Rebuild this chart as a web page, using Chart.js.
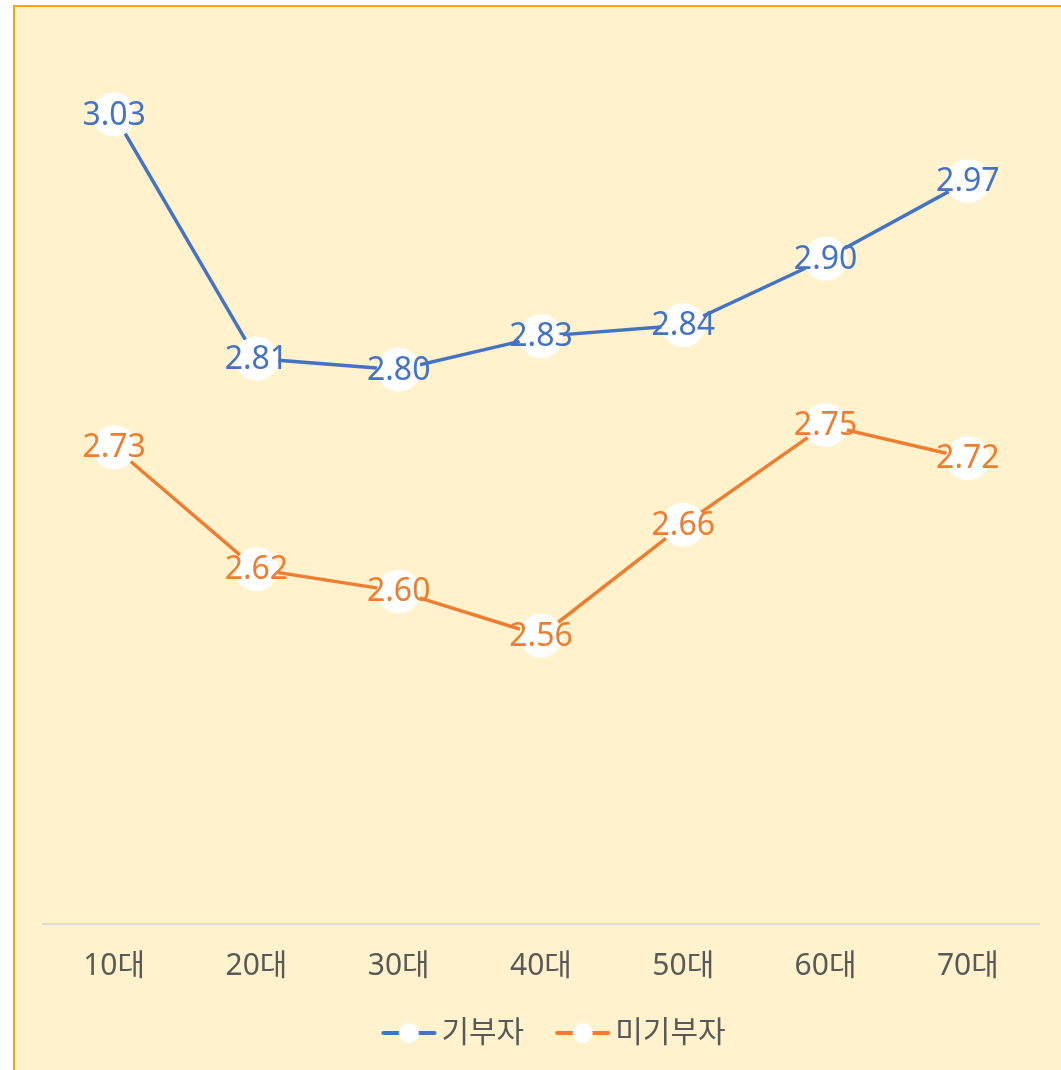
<!DOCTYPE html>
<html>
<head>
<meta charset="utf-8">
<script src="https://cdn.jsdelivr.net/npm/chart.js@4"></script>
<style>
  html, body { margin: 0; padding: 0; background: #ffffff; overflow: hidden; }
  #frame { position: absolute; left: 13px; top: 5px; width: 1100px; height: 1100px;
           background: #FFF2CC; border-left: 2px solid #FFA500; border-top: 2px solid #FFA500; box-sizing: border-box; }
  #c { position: absolute; left: 0; top: 0; }
</style>
</head>
<body>
<div id="frame"></div>
<canvas id="c" width="1061" height="1070"></canvas>
<script>
const categories = ['10대', '20대', '30대', '40대', '50대', '60대', '70대'];
const donorValues = [3.03, 2.81, 2.80, 2.83, 2.84, 2.90, 2.97];
const nonDonorValues = [2.73, 2.62, 2.60, 2.56, 2.66, 2.75, 2.72];
const seriesNames = ['기부자', '미기부자'];
const seriesColors = ['#4472C4', '#ED7D31'];

const FONT = '"Noto Sans", "Noto Sans CJK KR", sans-serif';

function legendImage(color) {
  const cv = document.createElement('canvas');
  cv.width = 90; cv.height = 24;
  const g = cv.getContext('2d');
  g.strokeStyle = color; g.lineWidth = 4; g.lineCap = 'round';
  g.beginPath(); g.moveTo(35, 12); g.lineTo(86, 12); g.stroke();
  g.fillStyle = '#ffffff';
  g.beginPath(); g.arc(60.5, 12, 10, 0, Math.PI * 2); g.fill();
  return cv;
}

const valueLabels = {
  id: 'valueLabels',
  afterDatasetsDraw(chart) {
    const ctx = chart.ctx;
    ctx.save();
    ctx.font = '32px ' + FONT;
    ctx.textAlign = 'center';
    ctx.textBaseline = 'middle';
    chart.data.datasets.forEach((ds, i) => {
      const meta = chart.getDatasetMeta(i);
      meta.data.forEach((pt, j) => {
        ctx.fillStyle = ds.borderColor;
        ctx.fillText(ds.data[j].toFixed(2), pt.x, pt.y + 1);
      });
    });
    ctx.restore();
  }
};

new Chart(document.getElementById('c'), {
  type: 'line',
  data: {
    labels: categories,
    datasets: [
      { label: seriesNames[0], data: donorValues, borderColor: seriesColors[0], borderWidth: 3.5,
        pointRadius: 22, pointBackgroundColor: '#ffffff', pointBorderWidth: 0, pointBorderColor: '#ffffff', tension: 0 },
      { label: seriesNames[1], data: nonDonorValues, borderColor: seriesColors[1], borderWidth: 3.5,
        pointRadius: 22, pointBackgroundColor: '#ffffff', pointBorderWidth: 0, pointBorderColor: '#ffffff', tension: 0 }
    ]
  },
  options: {
    responsive: false,
    animation: false,
    layout: { padding: { left: 43, right: 18, top: 37, bottom: 12 } },
    plugins: {
      tooltip: { enabled: false },
      legend: {
        position: 'bottom',
        labels: {
          usePointStyle: true,
          pointStyleWidth: 66,
          padding: 10,
          color: '#595959',
          font: { size: 30, family: FONT },
          generateLabels(chart) {
            return chart.data.datasets.map((ds, i) => ({
              text: ds.label,
              fillStyle: '#ffffff',
              strokeStyle: ds.borderColor,
              lineWidth: 0,
              pointStyle: legendImage(ds.borderColor),
              datasetIndex: i,
              hidden: false,
              fontColor: '#595959'
            }));
          }
        }
      }
    },
    scales: {
      x: {
        offset: true,
        grid: { display: false, drawTicks: false, offset: true },
        border: { display: true, color: '#D9D9D9', width: 2 },
        ticks: { color: '#595959', font: { size: 30, family: FONT }, padding: 24 }
      },
      y: {
        display: false,
        min: 2.3,
        max: 3.1
      }
    }
  },
  plugins: [valueLabels]
});
</script>
</body>
</html>
